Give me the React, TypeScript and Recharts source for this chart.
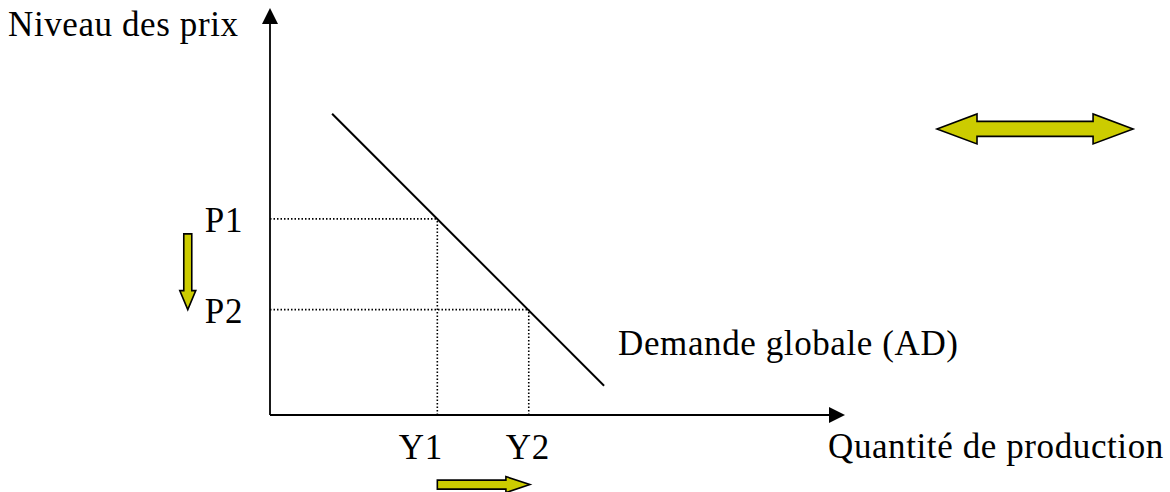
import React from 'react';
import { ComposedChart, Line, XAxis, YAxis, ReferenceLine, ReferenceDot } from 'recharts';

const CHART_W = 1170;
const CHART_H = 492;
const MARGIN = { top: 8, right: 325, bottom: 77, left: 270 };

// Data (in chart units: quantity 0..100, price level 0..100)
const quantityDomain: [number, number] = [0, 100];
const priceDomain: [number, number] = [0, 100];
const outputLevels = [29.1, 45.0];
const outputLabels = ['Y1', 'Y2'];
const priceLevels = [48.2, 25.9];
const priceLabels = ['P1', 'P2'];
const demandCurve = [
  { q: 10.8, p: 74.0 },
  { q: 58.1, p: 7.2 },
];
const demandLabel = 'Demande globale (AD)';
const yAxisTitle = 'Niveau des prix';
const xAxisTitle = 'Quantité de production';
// annotation arrows (chart units)
const priceShift = { q: -14.3, from: 44.5, to: 25.9 };
const outputShift = { p: -17.1, from: 29.1, to: 45.2 };
const neutralArrow = { p: 70.3, from: 116.0, to: 150.1 };

const FONT = '"Liberation Serif", "DejaVu Serif", serif';
const FONT_SIZE = 35;
const YELLOW = '#CCCC00';

type Pt = { x: number; y: number };

function blockArrowPoints(a: Pt, b: Pt, shaftHalf: number, headHalf: number, headLen: number, double: boolean) {
  const dx = b.x - a.x;
  const dy = b.y - a.y;
  const len = Math.hypot(dx, dy) || 1;
  const ux = dx / len;
  const uy = dy / len;
  const nx = -uy;
  const ny = ux;
  const P = (base: Pt, t: number, s: number): Pt => ({ x: base.x + ux * t + nx * s, y: base.y + uy * t + ny * s });
  const pts: Pt[] = [];
  if (double) {
    pts.push(a);
    pts.push(P(a, headLen, headHalf));
    pts.push(P(a, headLen, shaftHalf));
    pts.push(P(b, -headLen, shaftHalf));
    pts.push(P(b, -headLen, headHalf));
    pts.push(b);
    pts.push(P(b, -headLen, -headHalf));
    pts.push(P(b, -headLen, -shaftHalf));
    pts.push(P(a, headLen, -shaftHalf));
    pts.push(P(a, headLen, -headHalf));
  } else {
    pts.push(P(a, 0, shaftHalf));
    pts.push(P(b, -headLen, shaftHalf));
    pts.push(P(b, -headLen, headHalf));
    pts.push(b);
    pts.push(P(b, -headLen, -headHalf));
    pts.push(P(b, -headLen, -shaftHalf));
    pts.push(P(a, 0, -shaftHalf));
  }
  return pts.map((p) => `${p.x},${p.y}`).join(' ');
}

const makeBlockArrow = (shaftHalf: number, headHalf: number, headLen: number, double: boolean) => (props: any) => {
  const { x1, y1, x2, y2 } = props;
  if ([x1, y1, x2, y2].some((v) => typeof v !== 'number' || isNaN(v))) return <g />;
  return (
    <polygon
      points={blockArrowPoints({ x: x1, y: y1 }, { x: x2, y: y2 }, shaftHalf, headHalf, headLen, double)}
      fill={YELLOW}
      stroke="#000"
      strokeWidth={1.6}
      strokeLinejoin="miter"
    />
  );
};

const axisArrow = (props: any) => {
  const { x1, y1, x2, y2 } = props;
  if ([x1, y1, x2, y2].some((v) => typeof v !== 'number' || isNaN(v))) return <g />;
  const dx = x2 - x1;
  const dy = y2 - y1;
  const len = Math.hypot(dx, dy) || 1;
  const ux = dx / len;
  const uy = dy / len;
  const nx = -uy;
  const ny = ux;
  const headLen = 16;
  const headHalf = 8;
  const bx = x2 - ux * headLen;
  const by = y2 - uy * headLen;
  const pts = [
    `${x2},${y2}`,
    `${bx + nx * headHalf},${by + ny * headHalf}`,
    `${bx - nx * headHalf},${by - ny * headHalf}`,
  ].join(' ');
  return (
    <g>
      <line x1={x1} y1={y1} x2={bx + ux * 2} y2={by + uy * 2} stroke="#000" strokeWidth={1.8} />
      <polygon points={pts} fill="#000" />
    </g>
  );
};

const textShape = (label: string, dx: number, dy: number, anchor: 'start' | 'middle' | 'end') => (props: any) => {
  const { cx, cy } = props;
  if (typeof cx !== 'number' || typeof cy !== 'number') return <g />;
  return (
    <text
      x={cx + dx}
      y={cy + dy}
      textAnchor={anchor}
      fontFamily={FONT}
      fontSize={FONT_SIZE}
      letterSpacing={0.6}
      fill="#000"
    >
      {label}
    </text>
  );
};

export default function App() {
  return (
    <div style={{ position: 'absolute', left: 0, top: 0, width: CHART_W, height: CHART_H, background: '#fff' }}>
      <ComposedChart width={CHART_W} height={CHART_H} data={demandCurve} margin={MARGIN}>
        <XAxis dataKey="q" type="number" domain={quantityDomain} hide />
        <YAxis type="number" domain={priceDomain} hide />

        {/* dotted guides */}
        {outputLevels.map((q, i) => (
          <ReferenceLine
            key={`h${i}`}
            segment={[
              { x: 0, y: priceLevels[i] },
              { x: q, y: priceLevels[i] },
            ]}
            stroke="#000"
            strokeWidth={1.6}
            strokeDasharray="1.5 2"
            ifOverflow="visible"
          />
        ))}
        {outputLevels.map((q, i) => (
          <ReferenceLine
            key={`v${i}`}
            segment={[
              { x: q, y: 0 },
              { x: q, y: priceLevels[i] },
            ]}
            stroke="#000"
            strokeWidth={1.6}
            strokeDasharray="1.5 2"
            ifOverflow="visible"
          />
        ))}

        {/* axes with arrowheads */}
        <ReferenceLine
          segment={[
            { x: 0, y: 0 },
            { x: 0, y: priceDomain[1] },
          ]}
          shape={axisArrow}
          ifOverflow="visible"
        />
        <ReferenceLine
          segment={[
            { x: 0, y: 0 },
            { x: quantityDomain[1], y: 0 },
          ]}
          shape={axisArrow}
          ifOverflow="visible"
        />

        <Line
          dataKey="p"
          type="linear"
          stroke="#000"
          strokeWidth={2}
          dot={false}
          activeDot={false}
          isAnimationActive={false}
        />

        {/* yellow arrows */}
        <ReferenceLine
          segment={[
            { x: priceShift.q, y: priceShift.from },
            { x: priceShift.q, y: priceShift.to },
          ]}
          shape={makeBlockArrow(4, 8, 19, false)}
          ifOverflow="visible"
        />
        <ReferenceLine
          segment={[
            { x: outputShift.from, y: outputShift.p },
            { x: outputShift.to, y: outputShift.p },
          ]}
          shape={makeBlockArrow(4.5, 8, 24, false)}
          ifOverflow="visible"
        />
        <ReferenceLine
          segment={[
            { x: neutralArrow.from, y: neutralArrow.p },
            { x: neutralArrow.to, y: neutralArrow.p },
          ]}
          shape={makeBlockArrow(7.5, 15, 40, true)}
          ifOverflow="visible"
        />

        {/* texts */}
        {priceLevels.map((p, i) => (
          <ReferenceDot
            key={`pl${i}`}
            x={0}
            y={p}
            r={0}
            ifOverflow="visible"
            shape={textShape(priceLabels[i], -27, 13.5, 'end')}
          />
        ))}
        {outputLevels.map((q, i) => (
          <ReferenceDot
            key={`ol${i}`}
            x={q}
            y={0}
            r={0}
            ifOverflow="visible"
            shape={textShape(outputLabels[i], i === 0 ? -16.5 : -1, 44, 'middle')}
          />
        ))}
        <ReferenceDot
          x={0}
          y={priceDomain[1]}
          r={0}
          ifOverflow="visible"
          shape={textShape(yAxisTitle, -262, 28, 'start')}
        />
        <ReferenceDot
          x={quantityDomain[1]}
          y={0}
          r={0}
          ifOverflow="visible"
          shape={textShape(xAxisTitle, -17, 43, 'start')}
        />
        <ReferenceDot
          x={demandCurve[1].q}
          y={demandCurve[1].p}
          r={0}
          ifOverflow="visible"
          shape={textShape(demandLabel, 14, -31, 'start')}
        />
      </ComposedChart>
    </div>
  );
}
